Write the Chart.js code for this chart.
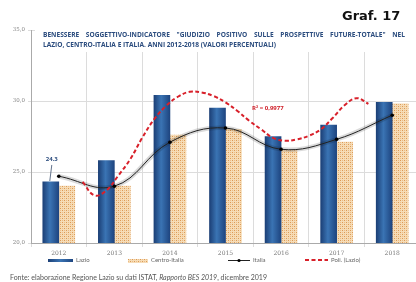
<!DOCTYPE html>
<html>
<head>
<meta charset="utf-8">
<script src="https://cdn.jsdelivr.net/npm/chart.js@4.4.1/dist/chart.umd.min.js"></script>
<style>
    html, body { margin: 0; padding: 0; background: #fff; }
    #wrap { position: relative; width: 416px; height: 282px; overflow: hidden; background: #fff; }
    #chartBox { position: absolute; left: 0; top: 0; width: 424px; height: 282px; }
    #graf { position: absolute; left: 342px; top: 8px; font: bold 13px "DejaVu Sans", sans-serif; color: #111; white-space: nowrap; }
    #title { position: absolute; left: 35px; top: 29px; width: 381px; height: 23px; background: #fff;
             font: bold 6.6px "Open Sans", sans-serif; line-height: 10px; color: #2b4c7e; white-space: nowrap; }
    #title div { position: absolute; left: 8px; }
    #t1 { top: 1px; width: 362px; text-align: justify; text-align-last: justify; }
    #t2 { top: 11px; }
    #r2 { position: absolute; left: 252px; top: 104px; font: bold 6px "Open Sans", sans-serif; color: #d0202a; white-space: nowrap; }
    .leg { position: absolute; top: 256px; font: 6px "Lato", sans-serif; color: #666; white-space: nowrap; line-height: 8px; }
    .sw { position: absolute; }
    #src { position: absolute; left: 10px; top: 273px; font: 7px "Lato", sans-serif; color: #555; white-space: nowrap; }
</style>
</head>
<body>
<div id="wrap">
    <div id="chartBox"><canvas id="grafico"></canvas></div>
    <div id="graf">Graf. 17</div>
    <div id="title">
        <div id="t1">BENESSERE SOGGETTIVO-INDICATORE "GIUDIZIO POSITIVO SULLE PROSPETTIVE FUTURE-TOTALE" NEL</div>
        <div id="t2">LAZIO, CENTRO-ITALIA E ITALIA. ANNI 2012-2018 (VALORI PERCENTUALI)</div>
    </div>
    <div id="r2">R² = 0,9977</div>
    <div class="leg" style="left:48px;width:50px;"><span class="sw" id="swLazio" style="left:0;top:2.5px;width:25px;height:3.5px;"></span><span style="position:absolute;left:28px;">Lazio</span></div>
    <div class="leg" style="left:128px;width:70px;"><canvas class="sw" id="swCentro" width="20" height="4" style="left:0;top:2.5px;"></canvas><span style="position:absolute;left:23px;">Centro-Italia</span></div>
    <div class="leg" style="left:228px;width:50px;"><canvas class="sw" id="swItalia" width="22" height="6" style="left:0;top:1px;"></canvas><span style="position:absolute;left:25px;">Italia</span></div>
    <div class="leg" style="left:305px;width:70px;"><canvas class="sw" id="swPoli" width="23" height="4" style="left:0;top:2px;"></canvas><span style="position:absolute;left:26px;">Poli. (Lazio)</span></div>
    <div id="src">Fonte: elaborazione Regione Lazio su dati ISTAT, <i>Rapporto BES 2019</i>, dicembre 2019</div>
</div>
<script>
// Dati
const anni = ['2012', '2013', '2014', '2015', '2016', '2017', '2018'];
const lazio = [24.3, 25.8, 30.4, 29.5, 27.5, 28.3, 29.9];
const centroItalia = [24.0, 24.0, 27.6, 28.0, 26.5, 27.1, 29.8];
const italia = [24.7, 24.0, 27.1, 28.1, 26.6, 27.3, 29.0];
// curva polinomiale (Poli. Lazio)
const trendAnni = [2012, 2012.25, 2012.5, 2012.75, 2013, 2013.25, 2013.5, 2013.75, 2014, 2014.25, 2014.5, 2014.75,
                   2015, 2015.25, 2015.5, 2015.75, 2016, 2016.25, 2016.5, 2016.75, 2017, 2017.25, 2017.5, 2017.75, 2018];
const trendLazio = [24.3, 23.35, 23.7, 24.75, 25.9, 27.4, 28.7, 29.65, 30.3, 30.65, 30.6, 30.35,
                    29.9, 29.3, 28.6, 28.0, 27.4, 27.2, 27.3, 27.55, 28.0, 28.8, 29.7, 30.2, 29.8];
const yTicks = [20, 25, 30, 35];

const BLU = '#2a5c9b';
const ROSSO = '#d8202a';

// trama a puntini per Centro-Italia
function makePattern() {
    const c = document.createElement('canvas');
    c.width = 4; c.height = 4;
    const x = c.getContext('2d');
    x.fillStyle = '#f6dcb6';
    x.fillRect(0, 0, 4, 4);
    x.fillStyle = '#dc9a55';
    x.fillRect(0, 0, 1, 1);
    x.fillRect(2, 2, 1, 1);
    x.fillStyle = '#ebbb86';
    x.fillRect(2, 0, 1, 1);
    x.fillRect(0, 2, 1, 1);
    return x.createPattern(c, 'repeat');
}

function lazioFill(context) {
    const chart = context.chart;
    const meta = chart.getDatasetMeta(context.datasetIndex);
    const bar = meta.data[context.dataIndex];
    if (!bar || bar.x == null || !bar.width) return BLU;
    const g = chart.ctx.createLinearGradient(bar.x - bar.width / 2, 0, bar.x + bar.width / 2, 0);
    g.addColorStop(0, '#1c4077');
    g.addColorStop(0.45, '#3a74b4');
    g.addColorStop(1, '#1e4580');
    return g;
}

// etichetta "24.3" sopra la prima barra
const etichettaPlugin = {
    id: 'etichetta',
    afterDatasetsDraw(chart) {
        const bar = chart.getDatasetMeta(3).data[0];
        if (!bar) return;
        const ctx = chart.ctx;
        ctx.save();
        ctx.strokeStyle = '#3b4f6e';
        ctx.lineWidth = 0.8;
        ctx.beginPath();
        ctx.moveTo(bar.x - 1, bar.y - 1);
        ctx.lineTo(bar.x + 1, bar.y - 17);
        ctx.stroke();
        ctx.fillStyle = '#2b4c7e';
        ctx.font = 'bold 6px "Open Sans", sans-serif';
        ctx.textAlign = 'center';
        ctx.textBaseline = 'middle';
        ctx.fillText(lazio[0].toFixed(1), bar.x + 1, bar.y - 23);
        ctx.restore();
    }
};

const ctx = document.getElementById('grafico').getContext('2d');
const hatch = makePattern();

const chart = new Chart(ctx, {
    type: 'bar',
    data: {
        labels: anni,
        datasets: [
            {
                label: 'Poli. (Lazio)',
                type: 'line',
                xAxisID: 'xt',
                data: trendAnni.map((a, i) => ({ x: a, y: trendLazio[i] })),
                borderColor: ROSSO,
                borderWidth: 2,
                borderDash: [4, 2.5],
                pointRadius: 0,
                tension: 0.4,
                order: 0
            },
            {
                label: 'Italia',
                type: 'line',
                data: italia,
                borderColor: '#222',
                borderWidth: 1,
                pointRadius: 1.8,
                pointBackgroundColor: '#000',
                pointBorderWidth: 0,
                tension: 0.4,
                order: 1
            },
            {
                label: 'ombra',
                type: 'line',
                data: italia,
                borderColor: 'rgba(0,0,0,0.14)',
                borderWidth: 4.5,
                pointRadius: 0,
                tension: 0.4,
                order: 2
            },
            {
                label: 'Lazio',
                data: lazio,
                backgroundColor: lazioFill,
                barThickness: 16,
                order: 3
            },
            {
                label: 'Centro-Italia',
                data: centroItalia,
                backgroundColor: hatch,
                barThickness: 16,
                order: 3
            }
        ]
    },
    options: {
        responsive: true,
        maintainAspectRatio: false,
        animation: false,
        layout: { padding: { top: 30, right: 3, left: 0, bottom: 0 } },
        plugins: {
            legend: { display: false },
            tooltip: { enabled: false }
        },
        scales: {
            x: {
                grid: { color: '#dcdcdc', offset: true, tickLength: 4 },
                border: { color: '#aaa' },
                ticks: {
                    color: '#777',
                    padding: 3,
                    font: { family: '"DejaVu Serif", serif', size: 6 }
                },
                afterFit: s => { s.height = 39; }
            },
            xt: {
                type: 'linear',
                display: false,
                min: 2011.5,
                max: 2018.5
            },
            y: {
                min: 20,
                max: 35,
                afterBuildTicks: s => { s.ticks = yTicks.map(v => ({ value: v })); },
                grid: { color: '#dcdcdc', tickLength: 3 },
                border: { color: '#aaa' },
                ticks: {
                    color: '#888',
                    padding: 3,
                    font: { family: '"DejaVu Serif", serif', size: 5.5 },
                    callback: v => v.toFixed(1).replace('.', ',')
                },
                afterFit: s => { s.width = 31; }
            }
        }
    },
    plugins: [etichettaPlugin]
});
// seconda passata per i gradienti delle barre
chart.update();

// campioni della legenda
document.getElementById('swLazio').style.background = 'linear-gradient(90deg,#1c4077,#3a74b4,#1e4580)';
(function () {
    const c = document.getElementById('swCentro').getContext('2d');
    c.fillStyle = makePattern();
    c.fillRect(0, 0, 20, 4);
    const i = document.getElementById('swItalia').getContext('2d');
    i.strokeStyle = '#222'; i.lineWidth = 1;
    i.beginPath(); i.moveTo(0, 3.5); i.lineTo(22, 3.5); i.stroke();
    i.fillStyle = '#000'; i.beginPath(); i.arc(11, 3.5, 1.6, 0, Math.PI * 2); i.fill();
    const p = document.getElementById('swPoli').getContext('2d');
    p.strokeStyle = ROSSO; p.lineWidth = 2; p.setLineDash([4, 2.5]);
    p.beginPath(); p.moveTo(0, 2); p.lineTo(23, 2); p.stroke();
})();
</script>
</body>
</html>
